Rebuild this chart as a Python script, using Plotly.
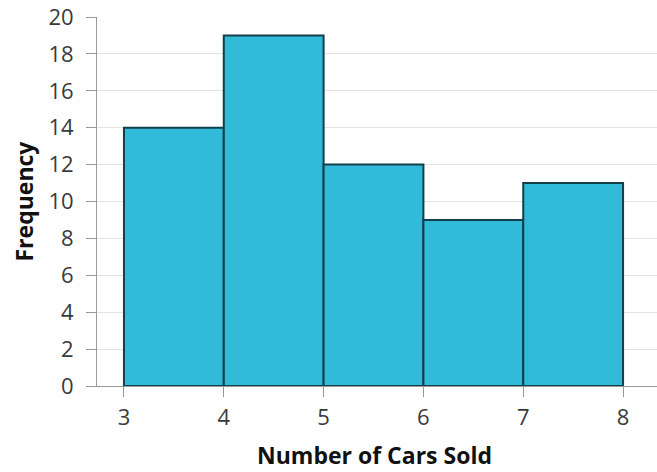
import plotly.graph_objects as go

bin_edges = [3, 4, 5, 6, 7, 8]
frequencies = [14, 19, 12, 9, 11]
x_ticks = [3, 4, 5, 6, 7, 8]
y_ticks = [0, 2, 4, 6, 8, 10, 12, 14, 16, 18, 20]

mids = [(a + b) / 2 for a, b in zip(bin_edges[:-1], bin_edges[1:])]
widths = [b - a for a, b in zip(bin_edges[:-1], bin_edges[1:])]

fig = go.Figure(go.Bar(
    x=mids, y=frequencies, width=widths,
    marker=dict(color="#32BBD8", line=dict(color="#123F4C", width=2)),
    hoverinfo="skip",
))

font = "Open Sans, Noto Sans, sans-serif"
fig.update_layout(
    width=657, height=472,
    margin=dict(l=97, r=0, t=17, b=86),
    paper_bgcolor="white", plot_bgcolor="white",
    showlegend=False,
    font=dict(family=font, color="#333333", size=22),
    xaxis=dict(
        range=[2.73, 8.34], tickvals=x_ticks, ticktext=[str(t) for t in x_ticks],
        showgrid=False, zeroline=False, automargin=False,
        showline=True, linecolor="#999999", linewidth=1,
        ticks="outside", ticklen=10, tickcolor="#999999", tickwidth=1,
        tickfont=dict(size=22, color="#3a3a3a"), ticklabelstandoff=2,
    ),
    yaxis=dict(
        range=[0, 20], tickvals=y_ticks, automargin=False,
        showgrid=True, gridcolor="#E3E3E3", gridwidth=1,
        zeroline=False,
        showline=True, linecolor="#999999", linewidth=1,
        ticks="outside", ticklen=10, tickcolor="#999999", tickwidth=1,
        tickfont=dict(size=22, color="#3a3a3a"), ticklabelstandoff=8,
    ),
    annotations=[
        dict(text="<b>Number of Cars Sold</b>", xref="paper", yref="paper",
             x=0.496, y=0, yshift=-69, xanchor="center", yanchor="middle",
             showarrow=False, font=dict(size=23, color="#111111")),
        dict(text="<b>Frequency</b>", xref="paper", yref="paper",
             x=0, y=0.5, xshift=-74, xanchor="center", yanchor="middle",
             textangle=-90, showarrow=False, font=dict(size=23, color="#111111")),
    ],
)

fig.write_html(
    "out.html",
    config={"displayModeBar": False, "staticPlot": True},
    post_script="document.body.style.margin='0';document.body.style.overflow='hidden';",
)
